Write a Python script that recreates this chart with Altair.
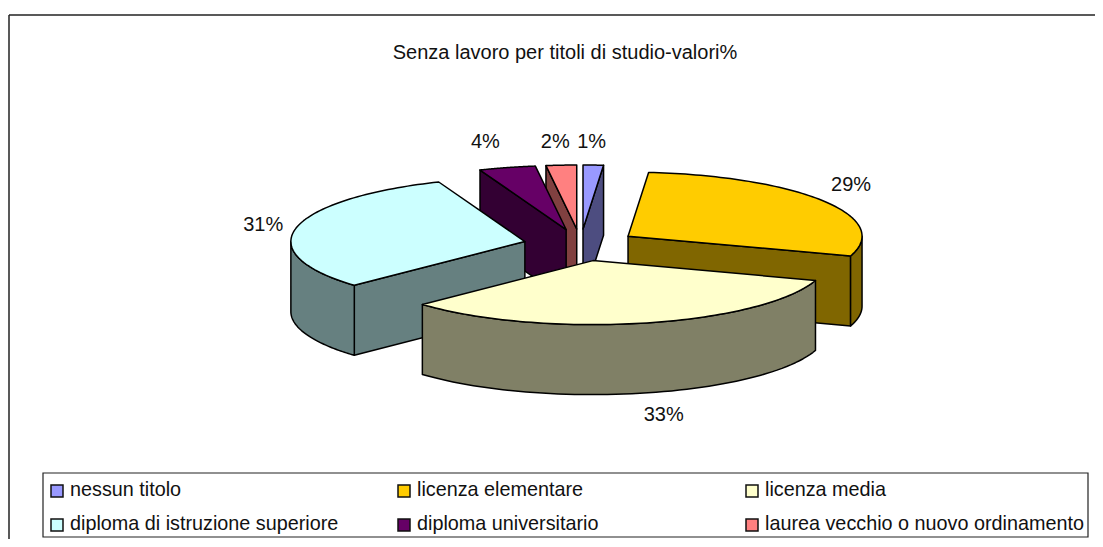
import math
import numpy as np
import pandas as pd
import altair as alt

categories = ["nessun titolo", "licenza elementare", "licenza media",
              "diploma di istruzione superiore", "diploma universitario",
              "laurea vecchio o nuovo ordinamento"]
values = [1.4, 28.6, 33.0, 31.0, 3.9, 2.1]
labels = ["1%", "29%", "33%", "31%", "4%", "2%"]
top_colors = ["#9999FF", "#FFCC00", "#FFFFCC", "#CCFFFF", "#660066", "#FF8080"]
wall_colors = ["#4D4D80", "#806600", "#808066", "#668080", "#330033", "#804040"]
title_text = "Senza lavoro per titoli di studio-valori%"

FONT = "Liberation Sans"
W, H = 1087, 531
CX, CY, RX, RY, EX, EY, DEPTH = 580.5, 245, 234, 64, 57, 16, 70
LABEL_NUDGE = [(-3, -1), (2, -4), (13, 0), (-3, 2), (-14, -4), (-4, -1)]
LEG_X = [51, 398, 746]
LEG_Y = [491, 525]

xs = alt.Scale(domain=[8, 8 + W], range=[0, W], nice=False, zero=False)
ys = alt.Scale(domain=[8, 8 + H], range=[0, H], nice=False, zero=False)
X = lambda f: alt.X(f, type="quantitative", scale=xs, axis=None)
Y = lambda f: alt.Y(f, type="quantitative", scale=ys, axis=None)

polys, lab_rows = [], []
edges = np.cumsum([0] + values) * 3.6
slices = []
for i, v in enumerate(values):
    a, b = edges[i], edges[i + 1]
    m = math.radians((a + b) / 2)
    ax = CX + EX * math.sin(m)
    ay = CY - EY * math.cos(m)
    slices.append((i, a, b, m, ax, ay))
    gx = ax + (RX + 31) * math.sin(m) + LABEL_NUDGE[i][0]
    gy = ay - (RY + 22) * math.cos(m) + (DEPTH if math.cos(m) < 0 else 0) + LABEL_NUDGE[i][1]
    lab_rows.append({"x": gx, "y": gy, "t": labels[i]})

def pt(ax, ay, t):
    r = math.radians(t)
    return ax + RX * math.sin(r), ay - RY * math.cos(r)

pid = 0
def add(pts, color):
    global pid
    for k, (x, y) in enumerate(pts):
        polys.append({"pid": pid, "k": k, "x": x, "y": y, "c": color})
    pid += 1

for i, a, b, m, ax, ay in sorted(slices, key=lambda s: -math.cos(s[3])):
    wall = wall_colors[i]
    if math.sin(math.radians(a)) < 0:
        p = pt(ax, ay, a)
        add([(ax, ay), p, (p[0], p[1] + DEPTH), (ax, ay + DEPTH)], wall)
    if math.sin(math.radians(b)) > 0:
        p = pt(ax, ay, b)
        add([(ax, ay), p, (p[0], p[1] + DEPTH), (ax, ay + DEPTH)], wall)
    lo, hi = max(a, 90), min(b, 270)
    if hi > lo:
        arc = [pt(ax, ay, t) for t in np.linspace(lo, hi, 60)]
        add(arc + [(x, y + DEPTH) for x, y in reversed(arc)], wall)
    arc = [pt(ax, ay, t) for t in np.linspace(a, b, 80)]
    add([(ax, ay)] + arc, top_colors[i])

poly_df = pd.DataFrame(polys)
faces = alt.Chart(poly_df).mark_line(
    interpolate="linear-closed", filled=True, stroke="black", strokeWidth=1.5,
    strokeJoin="round"
).encode(
    x=X("x"), y=Y("y"), detail="pid:N", order="k:Q",
    fill=alt.Fill("c:N", scale=None),
)

slice_labels = alt.Chart(pd.DataFrame(lab_rows)).mark_text(
    font=FONT, fontSize=20, color="#111111", align="center", baseline="middle"
).encode(x=X("x"), y=Y("y"), text="t:N")

title = alt.Chart(pd.DataFrame({"x": [565], "y": [53], "t": [title_text]})).mark_text(
    font=FONT, fontSize=20, color="#111111", align="center", baseline="middle"
).encode(x=X("x"), y=Y("y"), text="t:N")

frame = alt.Chart(pd.DataFrame({"x": [9, 9], "x2": [1095, 9], "y": [15, 15], "y2": [15, 539]})).mark_rule(
    color="#222222", strokeWidth=1.5
).encode(x=X("x"), x2="x2:Q", y=Y("y"), y2="y2:Q")

legend_box = alt.Chart(pd.DataFrame({"x": [43], "x2": [1088], "y": [473], "y2": [537]})).mark_rect(
    fill="white", stroke="#222222", strokeWidth=1.2
).encode(x=X("x"), x2="x2:Q", y=Y("y"), y2="y2:Q")

leg_rows = []
for i, c in enumerate(categories):
    col, row = i % 3, i // 3
    leg_rows.append({"x": LEG_X[col], "x2": LEG_X[col] + 12, "y": LEG_Y[row] - 6, "y2": LEG_Y[row] + 6,
                     "tx": LEG_X[col] + 19, "ty": LEG_Y[row] - 1, "t": c, "c": top_colors[i]})
leg_df = pd.DataFrame(leg_rows)
swatches = alt.Chart(leg_df).mark_rect(stroke="#111111", strokeWidth=1.5).encode(
    x=X("x"), x2="x2:Q", y=Y("y"), y2="y2:Q", fill=alt.Fill("c:N", scale=None))
leg_text = alt.Chart(leg_df).mark_text(
    font=FONT, fontSize=19.8, color="#111111", align="left", baseline="middle"
).encode(x=X("tx"), y=Y("ty"), text="t:N")

chart = alt.layer(frame, title, faces, slice_labels, legend_box, swatches, leg_text).properties(
    width=W, height=H, padding=0, background="white", autosize=alt.AutoSizeParams(type="none")
).configure_view(stroke=None)

chart.save("out.html", embed_options={"renderer": "svg", "actions": False})
